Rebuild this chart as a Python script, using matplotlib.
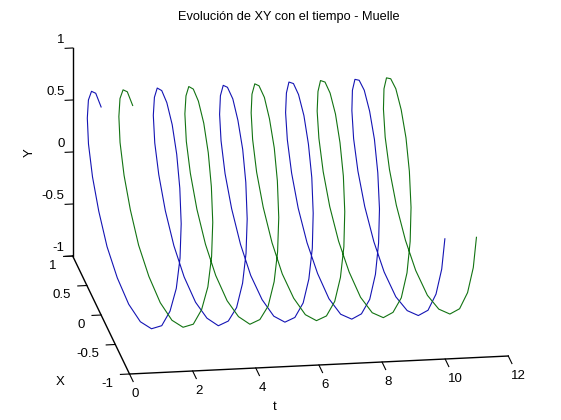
import matplotlib
matplotlib.use("Agg")
import numpy as np
import matplotlib.pyplot as plt
from mpl_toolkits.mplot3d import proj3d

plt.rcParams['font.family'] = ['Liberation Sans', 'DejaVu Sans']

# ── data: posición de la masa (muelle) frente al tiempo ─────────
t_azul = [
    0.0, 0.1, 0.2, 0.3, 0.4, 0.5, 0.6, 0.7, 0.8, 0.9,
    1.0, 1.1, 1.2, 1.3, 1.4, 1.5, 1.6, 1.7, 1.8, 1.9,
    2.0, 2.1, 2.2, 2.3, 2.4, 2.5, 2.6, 2.7, 2.8, 2.9,
    3.0, 3.1, 3.2, 3.3, 3.4, 3.5, 3.6, 3.7, 3.8, 3.9,
    4.0, 4.1, 4.2, 4.3, 4.4, 4.5, 4.6, 4.7, 4.8, 4.9,
    5.0, 5.1, 5.2, 5.3, 5.4, 5.5, 5.6, 5.7, 5.8, 5.9,
    6.0, 6.1, 6.2, 6.3, 6.4, 6.5, 6.6, 6.7, 6.8, 6.9,
    7.0, 7.1, 7.2, 7.3, 7.4, 7.5, 7.6, 7.7, 7.8, 7.9,
    8.0, 8.1, 8.2, 8.3, 8.4, 8.5, 8.6, 8.7, 8.8, 8.9,
    9.0, 9.1, 9.2, 9.3, 9.4, 9.5, 9.6, 9.7, 9.8, 9.9,
    10.0,
]
t_verde = [
    1.0, 1.1, 1.2, 1.3, 1.4, 1.5, 1.6, 1.7, 1.8, 1.9,
    2.0, 2.1, 2.2, 2.3, 2.4, 2.5, 2.6, 2.7, 2.8, 2.9,
    3.0, 3.1, 3.2, 3.3, 3.4, 3.5, 3.6, 3.7, 3.8, 3.9,
    4.0, 4.1, 4.2, 4.3, 4.4, 4.5, 4.6, 4.7, 4.8, 4.9,
    5.0, 5.1, 5.2, 5.3, 5.4, 5.5, 5.6, 5.7, 5.8, 5.9,
    6.0, 6.1, 6.2, 6.3, 6.4, 6.5, 6.6, 6.7, 6.8, 6.9,
    7.0, 7.1, 7.2, 7.3, 7.4, 7.5, 7.6, 7.7, 7.8, 7.9,
    8.0, 8.1, 8.2, 8.3, 8.4, 8.5, 8.6, 8.7, 8.8, 8.9,
    9.0, 9.1, 9.2, 9.3, 9.4, 9.5, 9.6, 9.7, 9.8, 9.9,
    10.0, 10.1, 10.2, 10.3, 10.4, 10.5, 10.6, 10.7, 10.8, 10.9,
    11.0,
]
x_pos = [
    0.00, 0.30, 0.56, 0.78, 0.93, 1.00, 0.97, 0.86, 0.68, 0.43,
    0.14, -0.16, -0.44, -0.69, -0.87, -0.98, -1.00, -0.93, -0.77, -0.55,
    -0.28, 0.02, 0.31, 0.58, 0.79, 0.94, 1.00, 0.97, 0.85, 0.66,
    0.41, 0.12, -0.17, -0.46, -0.70, -0.88, -0.98, -0.99, -0.92, -0.76,
    -0.54, -0.26, 0.03, 0.33, 0.59, 0.80, 0.94, 1.00, 0.97, 0.85,
    0.65, 0.40, 0.11, -0.19, -0.47, -0.71, -0.89, -0.98, -0.99, -0.91,
    -0.75, -0.52, -0.25, 0.05, 0.34, 0.61, 0.81, 0.95, 1.00, 0.96,
    0.84, 0.64, 0.38, 0.09, -0.21, -0.49, -0.72, -0.90, -0.99, -0.99,
    -0.91, -0.74, -0.51, -0.23, 0.07, 0.36, 0.62, 0.82, 0.95, 1.00,
    0.96, 0.83, 0.62, 0.37, 0.07, -0.22, -0.50, -0.73, -0.90, -0.99,
    -0.99,
]
y_pos = [
    1.00, 0.96, 0.83, 0.62, 0.36, 0.07, -0.23, -0.50, -0.74, -0.90,
    -0.99, -0.99, -0.90, -0.73, -0.49, -0.21, 0.09, 0.38, 0.63, 0.83,
    0.96, 1.00, 0.95, 0.82, 0.61, 0.35, 0.05, -0.24, -0.52, -0.75,
    -0.91, -0.99, -0.98, -0.89, -0.71, -0.48, -0.19, 0.10, 0.39, 0.65,
    0.84, 0.96, 1.00, 0.94, 0.81, 0.59, 0.33, 0.04, -0.26, -0.53,
    -0.76, -0.92, -0.99, -0.98, -0.88, -0.70, -0.46, -0.18, 0.12, 0.41,
    0.66, 0.85, 0.97, 1.00, 0.94, 0.80, 0.58, 0.31, 0.02, -0.28,
    -0.55, -0.77, -0.92, -1.00, -0.98, -0.87, -0.69, -0.45, -0.16, 0.14,
    0.42, 0.67, 0.86, 0.97, 1.00, 0.93, 0.79, 0.57, 0.30, 0.00,
    -0.29, -0.56, -0.78, -0.93, -1.00, -0.97, -0.86, -0.68, -0.43, -0.14,
    0.15,
]
t_ticks = [0, 2, 4, 6, 8, 10, 12]
xy_ticks = [-1, -0.5, 0, 0.5, 1]
xy_ticklabels = ['-1', '-0.5', '0', '0.5', '1']

# ── canvas ─────────────────────────────────────────────────────
W, H = 561, 420
fig = plt.figure(figsize=(W / 100, H / 100), dpi=100)
ax = fig.add_axes([0, 0, 1, 1], projection='3d', proj_type='ortho')

ax.plot(t_azul, x_pos, y_pos, color='#1414b4', lw=0.8)
ax.plot(t_verde, x_pos, y_pos, color='#127312', lw=0.8)

ax.set_xlim(0, 12)
ax.set_ylim(-1, 1)
ax.set_zlim(-1, 1)
ax.set_xticks(t_ticks)
ax.set_xticklabels([str(v) for v in t_ticks])
ax.set_yticks(xy_ticks)
ax.set_yticklabels(xy_ticklabels)
ax.set_zticks(xy_ticks)
ax.set_zticklabels(xy_ticklabels)
ax.tick_params(labelsize=9.5)
ax.tick_params(axis='x', pad=1)
ax.tick_params(axis='y', pad=1)
ax.tick_params(axis='z', pad=-4)

ax.view_init(elev=18.3, azim=-98.6)
ax.set_box_aspect((1, 0.992, 0.572))
ax.grid(False)
# tick length per axis (MATLAB style short ticks pointing out of the box)
for axis, tl in ((ax.xaxis, 0.8), (ax.yaxis, 0.3), (ax.zaxis, 0.25)):
    axis.set_pane_color((1, 1, 1, 0))
    axis.pane.set_edgecolor((1, 1, 1, 0))
    axis.line.set_color('black')
    axis.line.set_linewidth(1.0)
    axis._axinfo['tick']['inward_factor'] = tl
    axis._axinfo['tick']['outward_factor'] = 0.0
    axis._axinfo['tick']['color'] = 'black'
for lab in ax.get_xticklabels():
    lab.set_ha('left')
for lab in ax.get_yticklabels():
    lab.set_ha('right')
    lab.set_va('center')
for lab in ax.get_zticklabels():
    lab.set_ha('right')
    lab.set_va('bottom')

# ── fit the box onto the reference corners ─────────────────────
fig.canvas.draw()
corners = np.array([(0, -1, -1), (12, -1, -1), (0, 1, -1), (0, 1, 1)], float)
targets = np.array([(129.5, 374), (508.3, 356), (72.7, 256), (72.7, 48)], float)
targets[:, 1] = H - targets[:, 1]
px, py, _ = proj3d.proj_transform(corners[:, 0], corners[:, 1], corners[:, 2], ax.M)
P = ax.transData.transform(np.column_stack([px, py]))
bb = ax.get_position().transformed(fig.transFigure)
c = np.array([bb.x0 + bb.width / 2, bb.y0 + bb.height / 2])
w = bb.width
Pm, Qm = P.mean(0), targets.mean(0)
k = ((P - Pm) * (targets - Qm)).sum() / ((P - Pm) ** 2).sum()
c_new = Qm - k * (Pm - c)
w_new = k * w
ax.set_position([(c_new[0] - w_new / 2) / W, (c_new[1] - w_new / 2) / H,
                 w_new / W, w_new / H])

# ── text ───────────────────────────────────────────────────────
fig.text(289 / W, 1 - 17 / H, 'Evolución de XY con el tiempo - Muelle',
         ha='center', va='center', fontsize=9.2)
fig.text(275 / W, 1 - 407 / H, 't', ha='center', va='center', fontsize=9.5)
fig.text(60 / W, 1 - 382 / H, 'X', ha='center', va='center', fontsize=9.5)
fig.text(30 / W, 1 - 153 / H, 'Y', ha='center', va='center', fontsize=9.5,
         rotation=90)

fig.savefig('out.png', dpi=100, facecolor='white')
